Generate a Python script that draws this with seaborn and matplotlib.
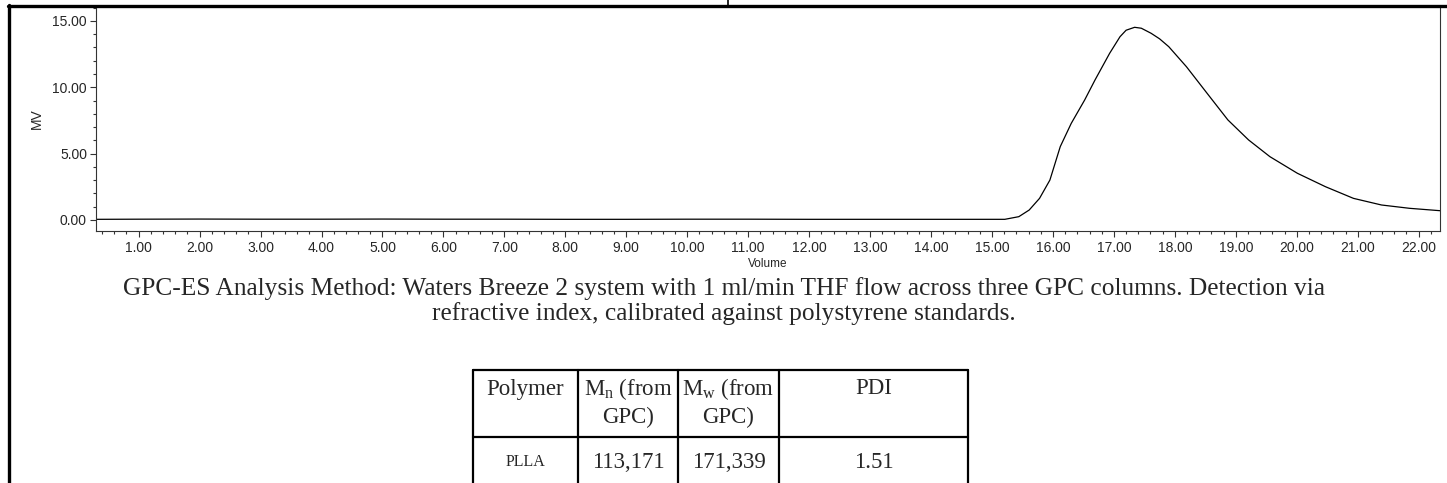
import numpy as np
import pandas as pd
import matplotlib
matplotlib.use('Agg')
import matplotlib.pyplot as plt
import seaborn as sns
from matplotlib.lines import Line2D
from matplotlib.ticker import MultipleLocator, FormatStrFormatter

# chromatogram (volume in ml, detector signal in mV)
volume = [0.3, 1.0, 2.0, 3.0, 4.0, 5.0, 6.0, 7.0, 8.0, 9.0, 10.0, 11.0, 12.0,
          13.0, 14.0, 15.0, 15.21, 15.44, 15.61, 15.78, 15.95, 16.12, 16.30,
          16.52, 16.69, 16.93, 17.10, 17.20, 17.34, 17.45, 17.61, 17.75, 17.90,
          18.19, 18.53, 18.87, 19.21, 19.56, 20.01, 20.47, 20.93, 21.39, 21.85,
          22.35]
signal = [0.05, 0.06, 0.07, 0.06, 0.06, 0.07, 0.06, 0.06, 0.05, 0.05, 0.06, 0.06, 0.05,
          0.05, 0.05, 0.05, 0.05, 0.25, 0.75, 1.63, 3.01, 5.53, 7.28,
          9.04, 10.55, 12.56, 13.81, 14.30, 14.52, 14.45, 14.07, 13.65, 13.06,
          11.55, 9.54, 7.54, 6.03, 4.77, 3.52, 2.51, 1.63, 1.13, 0.88,
          0.70]

caption_lines = [
    "GPC-ES Analysis Method: Waters Breeze 2 system with 1 ml/min THF flow across three GPC columns. Detection via",
    "refractive index, calibrated against polystyrene standards.",
]
table_header = ["Polymer", r"M$_\mathrm{n}$ (from", r"M$_\mathrm{w}$ (from", "PDI"]
table_header2 = ["", "GPC)", "GPC)", ""]
table_row = ["PLLA", "113,171", "171,339", "1.51"]

W, H = 1447, 483


def fx(x):
    return x / W


def fy(y):
    return 1 - y / H


sns.set_style("ticks")
plt.rcParams['font.family'] = ['Liberation Sans', 'DejaVu Sans']
plt.rcParams['mathtext.fontset'] = 'custom'
plt.rcParams['mathtext.rm'] = 'Liberation Serif'

fig = plt.figure(figsize=(W / 100, H / 100), dpi=100)
ax = fig.add_axes([fx(96), fy(231), fx(1440) - fx(96), fy(7) - fy(231)])

df = pd.DataFrame({"Volume": volume, "MV": signal})
sns.lineplot(data=df, x="Volume", y="MV", ax=ax, color="black", linewidth=0.9)

ax.set_xlim(0.3, 22.35)
ax.set_ylim(-0.83, 16.05)
ax.xaxis.set_major_locator(MultipleLocator(1))
ax.xaxis.set_minor_locator(MultipleLocator(0.2))
ax.yaxis.set_major_locator(MultipleLocator(5))
ax.yaxis.set_minor_locator(MultipleLocator(1))
ax.xaxis.set_major_formatter(FormatStrFormatter('%.2f'))
ax.yaxis.set_major_formatter(FormatStrFormatter('%.2f'))
ax.tick_params(which='major', length=4.5, width=0.8, labelsize=10, pad=2, color='#333333')
ax.tick_params(which='minor', length=2.2, width=0.8, color='#333333')
ax.tick_params(axis='x', which='major', pad=3)
for side in ['left', 'bottom', 'right']:
    ax.spines[side].set_linewidth(0.8)
    ax.spines[side].set_color('#333333')
ax.spines['top'].set_visible(False)
ax.set_xlabel("Volume", fontsize=8.5, labelpad=2)
ax.set_ylabel("MV", fontsize=10, labelpad=6)

# page borders of the surrounding document table
fig.add_artist(Line2D([fx(8), 1], [fy(5.5), fy(5.5)], color='black', lw=2.4))
fig.add_artist(Line2D([fx(9), fx(9)], [0, fy(5)], color='black', lw=2.4))
fig.add_artist(Line2D([fx(728), fx(728)], [1, fy(5)], color='black', lw=1.2))

# caption
fig.text(fx(724), fy(289), caption_lines[0], ha='center', va='center',
         family='Liberation Serif', fontsize=18.3)
fig.text(fx(724), fy(314), caption_lines[1], ha='center', va='center',
         family='Liberation Serif', fontsize=18.3)

# small results table
col_edges = [473, 578, 678, 779, 968]
row_edges = [370, 437, 490]
lw = 1.6
for xe in col_edges:
    fig.add_artist(Line2D([fx(xe), fx(xe)], [fy(row_edges[0]), fy(row_edges[-1])],
                          color='black', lw=lw))
for ye in row_edges:
    fig.add_artist(Line2D([fx(col_edges[0]), fx(col_edges[-1])], [fy(ye), fy(ye)],
                          color='black', lw=lw))
for i in range(4):
    cx = (col_edges[i] + col_edges[i + 1]) / 2
    fig.text(fx(cx), fy(389), table_header[i], ha='center', va='center',
             family='Liberation Serif', fontsize=16.5)
    if table_header2[i]:
        fig.text(fx(cx), fy(417), table_header2[i], ha='center', va='center',
                 family='Liberation Serif', fontsize=16.5)
    fig.text(fx(cx), fy(462), table_row[i], ha='center', va='center',
             family='Liberation Serif', fontsize=11.5 if i == 0 else 16.5)

fig.savefig("out.png", dpi=100)
